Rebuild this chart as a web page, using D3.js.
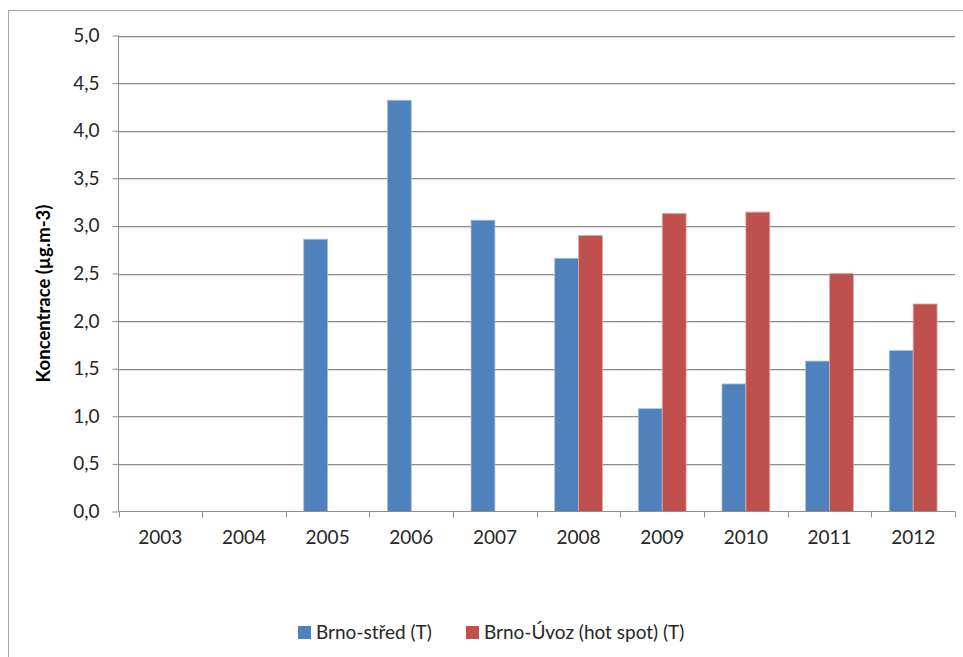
<!DOCTYPE html>
<html><head><meta charset="utf-8">
<script src="https://cdn.jsdelivr.net/npm/d3@7/dist/d3.min.js"></script>
<style>
html,body{margin:0;padding:0;background:#fff;overflow:hidden;}
svg{display:block;font-family:Lato,"Open Sans",sans-serif;}
</style></head>
<body>
<svg id="c" width="963" height="657"></svg>
<script>
const years = ["2003","2004","2005","2006","2007","2008","2009","2010","2011","2012"];
const seriesNames = ["Brno-střed (T)", "Brno-Úvoz (hot spot) (T)"];
const brnoStred = [null, null, 2.86, 4.32, 3.06, 2.66, 1.08, 1.34, 1.58, 1.69];
const brnoUvoz  = [null, null, null, null, null, 2.90, 3.13, 3.145, 2.50, 2.18];
const yTicks = [0, 0.5, 1, 1.5, 2, 2.5, 3, 3.5, 4, 4.5, 5];
const yLabel = "Koncentrace (µg.m-3)";
const colors = ["#4F81BD", "#C0504D"];
const strokeColors = ["#a9c0de", "#e0a9a7"];

(function () {
const svg = d3.select("#c");
const pLeft = 118.5, pRight = 955, pTop = 35.5, pBottom = 511.5;
const fs = "19px";

// chart frame
svg.append("rect").attr("x", 8.5).attr("y", 10.5).attr("width", 980).attr("height", 700)
  .attr("fill", "#fff").attr("stroke", "#a6a6a6").attr("stroke-width", 1);

const x0 = d3.scaleBand().domain(years).range([pLeft, pRight]).paddingInner(0).paddingOuter(0);
const x1 = d3.scaleBand().domain([0, 1]).range([0, x0.bandwidth()]).paddingInner(0).paddingOuter(0.75);
const y = d3.scaleLinear().domain([0, 5]).range([pBottom, pTop]);

const loc = d3.formatLocale({decimal: ",", thousands: " ", grouping: [3], currency: ["", ""]});
const fmt = loc.format(".1f");

// gridlines
const grid = svg.append("g");
yTicks.filter(t => t > 0).forEach(t => {
  const yy = Math.round(y(t)) + 0.5;
  grid.append("line").attr("x1", pLeft).attr("x2", pRight).attr("y1", yy + 1).attr("y2", yy + 1)
    .attr("stroke", "#dcdcdc");
  grid.append("line").attr("x1", pLeft).attr("x2", pRight).attr("y1", yy).attr("y2", yy)
    .attr("stroke", "#8e8e8e");
});

// bars
const data = [brnoStred, brnoUvoz];
data.forEach((vals, si) => {
  svg.append("g").selectAll("rect")
    .data(years.map((yr, i) => ({yr, v: vals[i]})).filter(d => d.v != null))
    .join("rect")
    .attr("x", d => x0(d.yr) + x1(si))
    .attr("width", x1.bandwidth())
    .attr("y", d => y(d.v))
    .attr("height", d => y(0) - y(d.v))
    .attr("fill", colors[si])
    .attr("stroke", strokeColors[si])
    .attr("stroke-width", 0.8);
});

// y axis
const yAxis = d3.axisLeft(y).tickValues(yTicks).tickFormat(fmt).tickSize(6).tickPadding(13);
const gy = svg.append("g").attr("transform", `translate(${pLeft},0)`).call(yAxis);
gy.select(".domain").attr("stroke", "#8e8e8e").attr("d", `M0,${pTop}V${pBottom}`);
gy.selectAll(".tick line").attr("stroke", "#8e8e8e");
gy.selectAll(".tick text").attr("fill", "#262626").style("font-size", fs).style("font-family", "Lato");

// x axis
const gx = svg.append("g").attr("transform", `translate(0,${pBottom})`)
  .call(d3.axisBottom(x0).tickSize(0).tickPadding(19));
gx.select(".domain").attr("stroke", "#8e8e8e").attr("d", `M${pLeft},0H${pRight}`);
gx.selectAll(".tick text").attr("fill", "#262626").style("font-size", fs).style("font-family", "Lato");
const sep = years.map(yr => x0(yr)).concat([pRight]);
gx.append("g").selectAll("line").data(sep).join("line")
  .attr("x1", d => Math.round(d) + 0.5).attr("x2", d => Math.round(d) + 0.5)
  .attr("y1", 0).attr("y2", 6).attr("stroke", "#8e8e8e");

// y label
svg.append("text")
  .attr("transform", `translate(50,${(200 + 387) / 2}) rotate(-90)`)
  .attr("text-anchor", "middle")
  .style("font-size", "18.5px").style("font-weight", "bold").style("font-family", "Lato")
  .attr("fill", "#000")
  .text(yLabel);

// legend
const legendItems = [{x: 298, tx: 316}, {x: 466, tx: 484}];
const lg = svg.append("g");
seriesNames.forEach((n, i) => {
  lg.append("rect").attr("x", legendItems[i].x).attr("y", 626).attr("width", 13).attr("height", 13)
    .attr("fill", colors[i]);
  lg.append("text").attr("x", legendItems[i].tx).attr("y", 632.5).attr("dy", "0.35em")
    .style("font-size", fs).style("font-family", "Lato").attr("fill", "#262626").text(n);
});
})();
</script>
</body></html>
